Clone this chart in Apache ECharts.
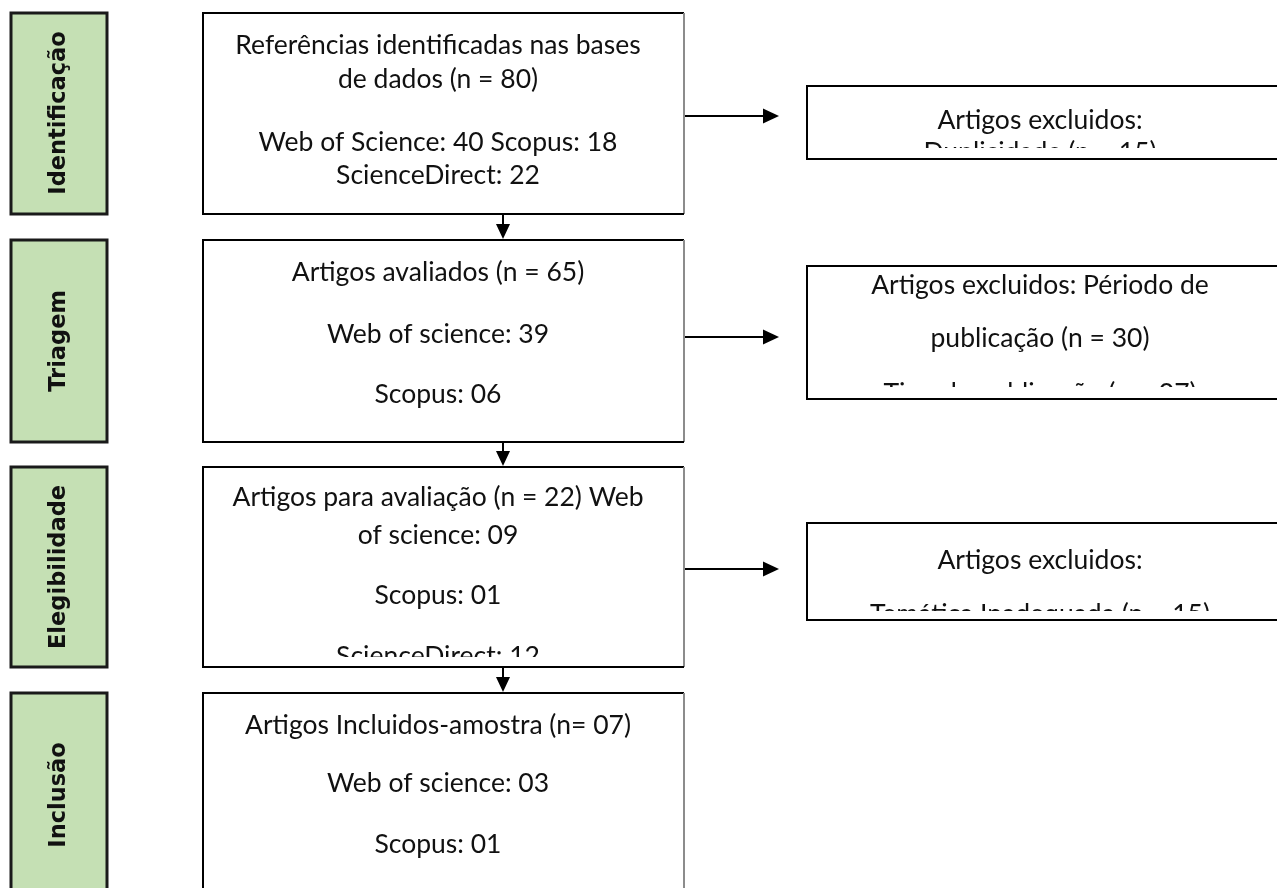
<!DOCTYPE html>
<html>
<head>
<meta charset="utf-8">
<script src="https://cdn.jsdelivr.net/npm/echarts@6/dist/echarts.min.js"></script>
<style>
html,body{margin:0;padding:0;background:#fff;}
#chart{width:1277px;height:888px;}
</style>
</head>
<body>
<div id="chart"></div>
<script>
// ---- data ----
const stages = ['Identificação', 'Triagem', 'Elegibilidade', 'Inclusão'];
const mainBoxLines = [
  [['Referências identificadas nas bases', 'de dados (n = 80)'], ['Web of Science: 40 Scopus: 18', 'ScienceDirect: 22']],
  [['Artigos avaliados (n = 65)'], ['Web of science: 39'], ['Scopus: 06']],
  [['Artigos para avaliação (n = 22) Web', 'of science: 09'], ['Scopus: 01'], ['ScienceDirect: 12']],
  [['Artigos Incluidos-amostra (n= 07)'], ['Web of science: 03'], ['Scopus: 01']]
];
const excludedLines = [
  [['Artigos excluidos:'], ['Duplicidade (n = 15)']],
  [['Artigos excluidos: Périodo de', 'publicação (n = 30)'], ['Tipo de publicação (n = 07)']],
  [['Artigos excluidos:'], ['Temática Inadequada (n = 15)']]
];

// ---- layout ----
const rows = [
  {top: 13, bottom: 214},
  {top: 240, bottom: 442},
  {top: 467, bottom: 667},
  {top: 693, bottom: 900}
];
const mainLineY = [
  [[45, 79], [142, 175]],
  [[272], [334], [394]],
  [[497, 535], [595], [656]],
  [[725], [783], [844]]
];
const mainClip = [null, null, 657, null];
const exclRows = [
  {top: 86, bottom: 159, arrowY: 116, lineY: [[120], [152]], clip: 148},
  {top: 266, bottom: 399, arrowY: 337, lineY: [[285, 338], [393]], clip: 387},
  {top: 523, bottom: 620, arrowY: 569, lineY: [[560], [614]], clip: 611}
];
const greenX = 11, greenW = 96;
const mainL = 203, mainR = 684;
const exclL = 807, exclR = 1290;
const arrowX = 503;
const textFont = 'Lato';
const textSize = 26.5;

const els = [];
function line(x1, y1, x2, y2, color, w, z) {
  els.push({type: 'line', shape: {x1, y1, x2, y2}, style: {stroke: color || '#000', lineWidth: w || 2}, z: z || 10, silent: true});
}
function text(str, x, y, z) {
  els.push({type: 'text', x, y, z: z || 5, silent: true,
    style: {text: str, fill: '#111', font: textSize + 'px ' + textFont, textAlign: 'center', textVerticalAlign: 'middle'}});
}
function whiteRect(x, y, w, h) {
  els.push({type: 'rect', shape: {x, y, width: w, height: h}, style: {fill: '#fff'}, z: 8, silent: true});
}
function arrowHeadDown(x, tipY) {
  els.push({type: 'polygon', shape: {points: [[x - 7, tipY - 15], [x + 7, tipY - 15], [x, tipY]]}, style: {fill: '#000'}, z: 11, silent: true});
}
function arrowHeadRight(tipX, y) {
  els.push({type: 'polygon', shape: {points: [[tipX - 16, y - 7.5], [tipX - 16, y + 7.5], [tipX, y]]}, style: {fill: '#000'}, z: 11, silent: true});
}

// green stage labels
const labelCY = [113, 341, 567, 795];
stages.forEach((s, i) => {
  const r = rows[i];
  const h = Math.min(r.bottom, 900) - r.top;
  els.push({type: 'rect', shape: {x: greenX, y: r.top, width: greenW, height: h},
    style: {fill: '#c5e0b4', stroke: '#1a1a1a', lineWidth: 3}, z: 2, silent: true});
  els.push({type: 'text', x: greenX + greenW / 2, y: labelCY[i], rotation: Math.PI / 2, z: 5, silent: true,
    style: {text: s, fill: '#111', font: 'bold 22.5px "DejaVu Sans"', textAlign: 'center', textVerticalAlign: 'middle'}});
});

// main boxes
const mainCX = 438;
mainBoxLines.forEach((paras, i) => {
  const r = rows[i];
  paras.forEach((p, j) => p.forEach((t, k) => text(t, mainCX, mainLineY[i][j][k])));
  if (mainClip[i]) whiteRect(mainL + 2, mainClip[i], mainR - mainL - 4, r.bottom - mainClip[i]);
  line(mainL, r.top, mainR, r.top);
  line(mainL, r.top - 1, mainL, r.bottom + 1);
  line(mainR, r.top, mainR, r.bottom, '#8c8c8c', 2);
  line(mainL, r.bottom, mainR, r.bottom);
  if (i < rows.length - 1) {
    line(arrowX, r.bottom, arrowX, rows[i + 1].top - 12, '#000', 2);
    arrowHeadDown(arrowX, rows[i + 1].top - 1);
  }
});

// excluded boxes
excludedLines.forEach((paras, i) => {
  const r = exclRows[i];
  paras.forEach((p, j) => p.forEach((t, k) => text(t, 1040, r.lineY[j][k])));
  whiteRect(exclL + 2, r.clip, exclR - exclL, r.bottom - r.clip + 14);
  line(exclL, r.top, exclR, r.top);
  line(exclL, r.top - 1, exclL, r.bottom + 1);
  line(exclL, r.bottom, exclR, r.bottom);
  line(mainR + 1, r.arrowY, 765, r.arrowY, '#000', 2);
  arrowHeadRight(779, r.arrowY);
});

const chart = echarts.init(document.getElementById('chart'), null, {renderer: 'canvas'});
chart.setOption({
  backgroundColor: '#fff',
  animation: false,
  graphic: {elements: els}
});
</script>
</body>
</html>
